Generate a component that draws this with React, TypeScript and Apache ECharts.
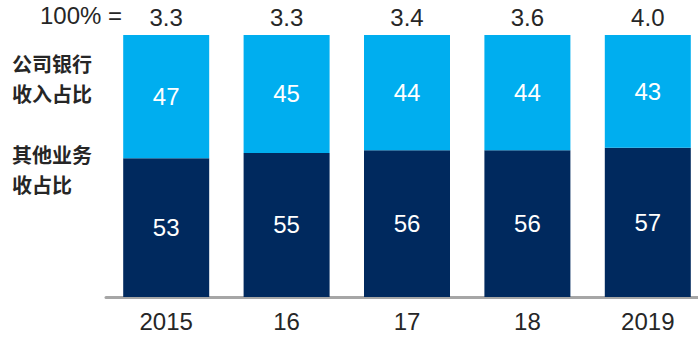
import React, { useEffect, useRef } from "react";
import * as echarts from "echarts";

const categories = ["2015", "16", "17", "18", "2019"];
const otherShare = [53, 55, 56, 56, 57];
const corporateShare = [47, 45, 44, 44, 43];
const totals = ["3.3", "3.3", "3.4", "3.6", "4.0"];
const totalPrefix = "100% =";
const corporateLabel = ["公司银行", "收入占比"];
const otherLabel = ["其他业务", "收占比"];

const NUM_FONT = "'Liberation Sans', Arial, sans-serif";
const CJK_FONT = "'Noto Sans CJK SC', sans-serif";

export default function App() {
  const ref = useRef<HTMLDivElement>(null);
  useEffect(() => {
    if (!ref.current) return;
    const chart = echarts.init(ref.current, undefined, { renderer: "svg" });
    const cjk = (text: string, top: number) => ({
      type: "text",
      left: 12,
      top,
      style: { text, fontSize: 20, fontWeight: "bold", fontFamily: CJK_FONT, fill: "#262626" },
    });
    chart.setOption({
      animation: false,
      grid: { left: 106, right: 0, top: 35, bottom: 43 },
      xAxis: [
        {
          type: "category",
          data: categories,
          position: "bottom",
          offset: 2,
          axisLine: { show: true, lineStyle: { color: "#A6A6A6", width: 3 } },
          axisTick: { show: false },
          axisLabel: { color: "#262626", fontSize: 24, fontFamily: NUM_FONT, margin: 10 },
        },
        {
          type: "category",
          data: totals,
          position: "top",
          axisLine: { show: false },
          axisTick: { show: false },
          axisLabel: { color: "#262626", fontSize: 24, fontFamily: NUM_FONT, margin: 6 },
        },
      ],
      yAxis: { type: "value", min: 0, max: 100, show: false },
      series: [
        {
          type: "bar",
          stack: "s",
          data: otherShare,
          barWidth: 86,
          itemStyle: { color: "#00295E" },
          label: { show: true, position: "inside", color: "#FFFFFF", fontSize: 24, fontFamily: NUM_FONT },
        },
        {
          type: "bar",
          stack: "s",
          data: corporateShare,
          barWidth: 86,
          itemStyle: { color: "#00AEEF" },
          label: { show: true, position: "inside", color: "#FFFFFF", fontSize: 24, fontFamily: NUM_FONT },
        },
      ],
      graphic: [
        {
          type: "text",
          left: 40,
          top: 3,
          style: { text: totalPrefix, fontSize: 24, fontFamily: NUM_FONT, fill: "#262626" },
        },
        cjk(corporateLabel[0], 53),
        cjk(corporateLabel[1], 83),
        cjk(otherLabel[0], 144),
        cjk(otherLabel[1], 174),
      ],
    });
    return () => chart.dispose();
  }, []);
  return (
    <div style={{ width: 698, height: 340, position: "absolute", left: 0, top: 0, overflow: "hidden" }}>
      <div ref={ref} style={{ width: 708, height: 340 }} />
    </div>
  );
}
